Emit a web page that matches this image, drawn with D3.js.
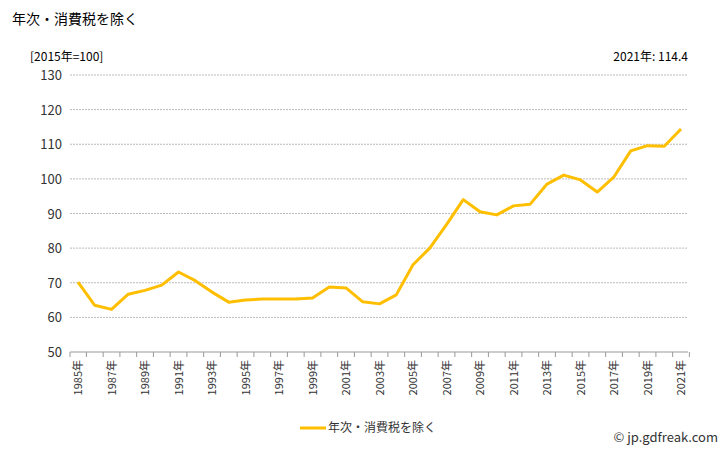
<!DOCTYPE html>
<html><head><meta charset="utf-8">
<script src="https://cdn.jsdelivr.net/npm/d3@7"></script>
<style>body{margin:0;background:#fff}text{font-family:"Noto Sans CJK JP","Noto Sans",sans-serif}</style>
</head><body>
<svg width="728" height="450"></svg>
<script>
const years = d3.range(1985, 2022);
const values = [70.2, 63.5, 62.3, 66.7, 67.8, 69.3, 73.1, 70.6, 67.3, 64.4, 65.0, 65.3, 65.3, 65.3, 65.6, 68.8, 68.5, 64.5, 63.9, 66.5,
  75.2, 80.0, 86.8, 94.0, 90.5, 89.6, 92.2, 92.7, 98.5, 101.1, 99.7, 96.2, 100.6, 108.1, 109.6, 109.4, 114.4];
const yTicks = [50, 60, 70, 80, 90, 100, 110, 120, 130];
const seriesName = "年次・消費税を除く";

const svg = d3.select("svg");
const pLeft = 70, pRight = 688, pTop = 75, pBottom = 352;
const color = "#ffbf00";

const x = d3.scalePoint().domain(years).range([78, 681]);
const y = d3.scaleLinear().domain([50, 130]).range([pBottom, pTop]);

svg.append("text").attr("x", 12).attr("y", 24).attr("font-size", 14).text(seriesName);
svg.append("text").attr("x", 30).attr("y", 61).attr("font-size", 12).text("[2015年=100]");
svg.append("text").attr("x", pRight).attr("y", 61).attr("font-size", 12).attr("text-anchor", "end").text("2021年: 114.4");

svg.append("g").selectAll("line").data(yTicks.slice(1)).join("line")
  .attr("x1", pLeft).attr("x2", pRight)
  .attr("y1", d => y(d)).attr("y2", d => y(d))
  .attr("stroke", "#bbb").attr("stroke-dasharray", "2,1");

svg.append("g").selectAll("text").data(yTicks).join("text")
  .attr("x", 62).attr("y", d => y(d) + 5).attr("text-anchor", "end")
  .attr("font-size", 13).attr("fill", "#333").text(d => d);

svg.append("line").attr("x1", pLeft).attr("x2", pRight).attr("y1", pBottom).attr("y2", pBottom).attr("stroke", "#999");
svg.append("line").attr("x1", pLeft).attr("x2", pLeft).attr("y1", pBottom).attr("y2", pBottom + 5).attr("stroke", "#999");
svg.append("g").selectAll("line").data(years).join("line")
  .attr("x1", d => x(d) + 8.4).attr("x2", d => x(d) + 8.4)
  .attr("y1", pBottom).attr("y2", pBottom + 5).attr("stroke", "#999");

svg.append("g").selectAll("text").data(years.filter(d => d % 2 === 1)).join("text")
  .attr("transform", d => `translate(${x(d) + 4},${pBottom + 8}) rotate(-90)`)
  .attr("text-anchor", "end").attr("font-size", 11).attr("fill", "#333")
  .text(d => d + "年");

const line = d3.line().x((d, i) => x(years[i])).y(d => y(d));
svg.append("path").datum(values).attr("fill", "none")
  .attr("stroke", color).attr("stroke-width", 3).attr("stroke-linejoin", "round").attr("d", line);

svg.append("line").attr("x1", 300).attr("x2", 326).attr("y1", 428).attr("y2", 428).attr("stroke", color).attr("stroke-width", 3);
svg.append("text").attr("x", 328).attr("y", 432).attr("font-size", 12).attr("fill", "#333").text(seriesName);

svg.append("text").attr("x", 718).attr("y", 442).attr("text-anchor", "end").attr("font-size", 13).attr("fill", "#333").text("© jp.gdfreak.com");
</script>
</body></html>
